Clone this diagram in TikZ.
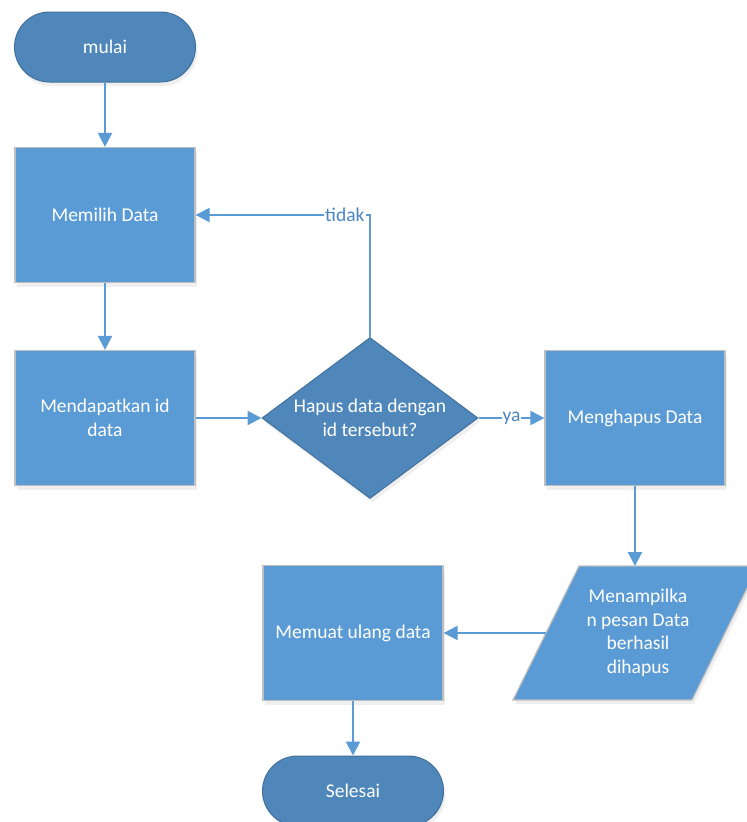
\documentclass[tikz,border=0pt]{standalone}
\usepackage{fontspec}
\setmainfont{Carlito}
\usetikzlibrary{arrows.meta,shapes.geometric,shadows}
\definecolor{procfill}{HTML}{5B9BD5}
\definecolor{procline}{HTML}{BFBFBF}
\definecolor{termfill}{HTML}{4F87BB}
\definecolor{termline}{HTML}{41719C}
\definecolor{flow}{HTML}{5B9BD5}
\definecolor{flowtext}{HTML}{4A86C2}
\tikzset{
  softshadow/.style={drop shadow={opacity=0.12,shadow xshift=2pt,shadow yshift=-4pt}},
  txt/.style={font=\fontsize{19.5}{23.5}\selectfont,text=white,align=center},
  process/.style={txt,draw=procline,line width=1.2pt,fill=procfill,
    minimum width=180pt,minimum height=135pt,inner sep=0pt,softshadow},
  terminal/.style={txt,draw=termline,line width=1pt,fill=termfill,rounded corners=35pt,
    minimum width=181pt,minimum height=70pt,inner sep=0pt,softshadow},
  decision/.style={txt,diamond,aspect=1.34,draw=termline,line width=1pt,fill=termfill,
    minimum width=216pt,minimum height=161pt,inner sep=0pt,softshadow},
  flowline/.style={draw=flow,line width=2.2pt,-{Triangle[length=14pt,width=14pt]}},
  flowlabel/.style={font=\fontsize{19.5}{23}\selectfont,text=flowtext,fill=white,inner sep=1pt}
}
\begin{document}
\begin{tikzpicture}[x=1pt,y=-1pt]
\useasboundingbox (0,0) rectangle (747,822);
\fill[white] (0,0) rectangle (747,822);

% start / end terminators
\node[terminal] (start) at (105,47) {mulai};
\node[terminal] (stop) at (353,791) {Selesai};

% process steps
\node[process] (pick) at (105,215) {Memilih Data};
\node[process] (getid) at (105,418) {Mendapatkan id\\data};
\node[decision] (ask) at (370,418) {Hapus data dengan\\id tersebut?};
\node[process] (del) at (635,418) {Menghapus Data};
\node[process] (reload) at (353,633) {Memuat ulang data};

% output parallelogram
\path[fill=procfill,draw=procline,line width=1.2pt,softshadow]
  (513,700) -- (579,566) -- (758,566) -- (692,700) -- cycle;
\node[txt] (msg) at (638,633) {Menampilka\\n pesan Data\\berhasil\\dihapus};
\coordinate (msgtop) at (635,566);
\coordinate (msgleft) at (546,633);

% connectors
\draw[flowline] (start) -- (pick);
\draw[flowline] (pick) -- (getid);
\draw[flowline] (getid.east) -- (ask.west);
\draw[flowline] (ask.north) |- node[flowlabel,pos=0.572] {tidak} (pick.east);
\draw[flowline] (ask.east) -- node[flowlabel,pos=0.5] {ya} (del.west);
\draw[flowline] (del.south) -- (msgtop);
\draw[flowline] (msgleft) -- (reload.east);
\draw[flowline] (reload) -- (stop);
\end{tikzpicture}
\end{document}
